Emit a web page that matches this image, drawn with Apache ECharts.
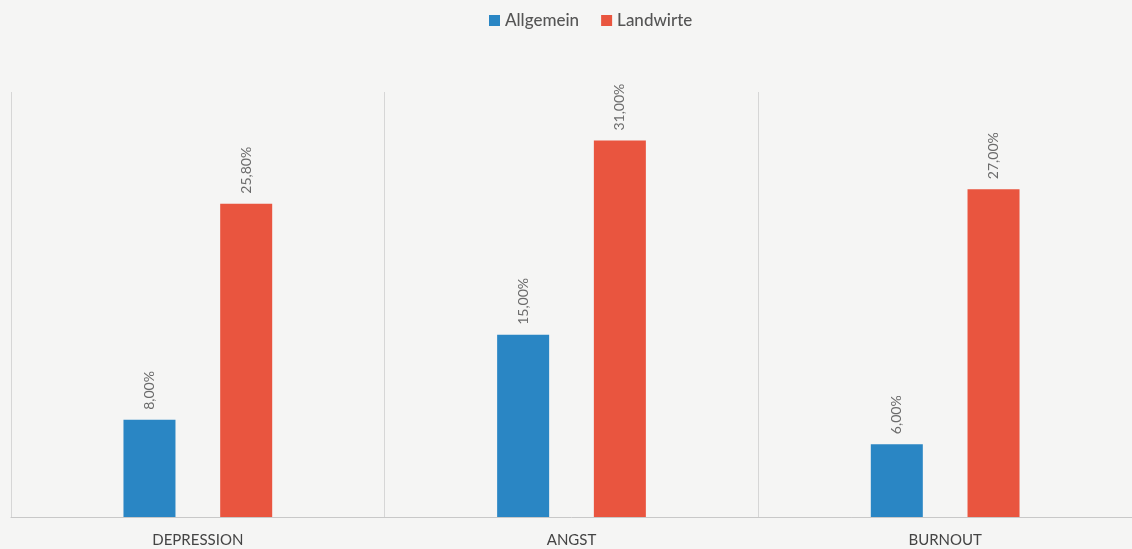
<!DOCTYPE html>
<html>
<head>
<meta charset="utf-8">
<script src="https://cdn.jsdelivr.net/npm/echarts@6/dist/echarts.min.js"></script>
<style>
  html, body { margin: 0; padding: 0; background: #f5f5f4; }
  #chart { width: 1132px; height: 549px; }
</style>
</head>
<body>
<div id="chart"></div>
<script>
const categories = ["DEPRESSION", "ANGST", "BURNOUT"];
const allgemein = [8.0, 15.0, 6.0];
const landwirte = [25.8, 31.0, 27.0];

const chart = echarts.init(document.getElementById("chart"));

// Prozentwerte im deutschen Format: 25,80%
function fmt(p) {
  return p.value.toFixed(2).replace(".", ",") + "%";
}

const labelStyle = {
  show: true,
  position: "top",
  rotate: 90,
  align: "left",
  verticalAlign: "middle",
  distance: 10,
  color: "#6b6b6b",
  fontSize: 14,
  fontFamily: "Lato",
  formatter: fmt
};

const option = {
  backgroundColor: "#f5f5f4",
  legend: {
    top: 7,
    left: 484,
    itemWidth: 11,
    itemHeight: 11,
    itemGap: 22,
    itemStyle: { borderWidth: 0 },
    icon: "rect",
    textStyle: { color: "#555", fontSize: 17, fontWeight: 500, fontFamily: "Lato" },
    data: ["Allgemein", "Landwirte"]
  },
  grid: { left: 11, right: -3, top: 92, bottom: 32 },
  xAxis: {
    type: "category",
    data: categories,
    axisLine: { lineStyle: { color: "#c8c8c8" } },
    axisTick: { show: false },
    splitLine: { show: true, lineStyle: { color: "#d6d6d6" } },
    axisLabel: {
      margin: 16,
      color: "#444",
      fontSize: 15,
      fontFamily: "Lato"
    }
  },
  yAxis: {
    type: "value",
    min: 0,
    max: 35,
    show: false
  },
  series: [
    {
      name: "Allgemein",
      type: "bar",
      data: allgemein,
      barWidth: 52,
      barGap: "86%",
      itemStyle: { color: "#2a86c4" },
      label: labelStyle
    },
    {
      name: "Landwirte",
      type: "bar",
      data: landwirte,
      barWidth: 52,
      itemStyle: { color: "#e9553f" },
      label: labelStyle
    }
  ]
};

chart.setOption(option);
</script>
</body>
</html>
